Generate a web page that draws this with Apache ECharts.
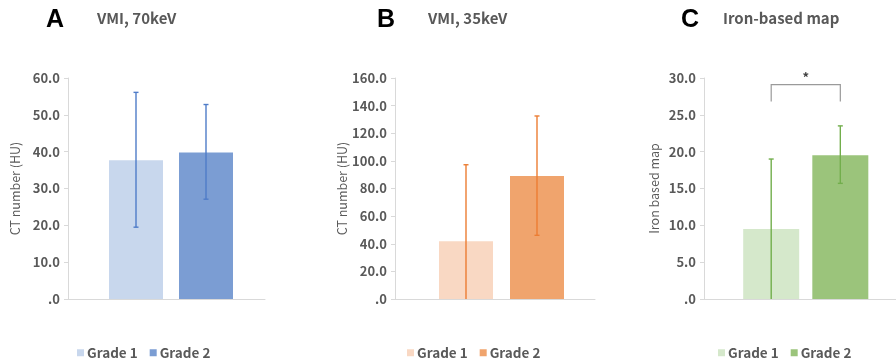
<!DOCTYPE html>
<html><head><meta charset="utf-8">
<script src="https://cdn.jsdelivr.net/npm/echarts@6/dist/echarts.min.js"></script>
<style>html,body{margin:0;padding:0;background:#fff}#c{width:896px;height:364px}</style>
</head><body><div id="c"></div>
<script>
// ---- data ----
const panelLetters = ['A', 'B', 'C'];
const panelTitles = ['VMI, 70keV', 'VMI, 35keV', 'Iron-based map'];
const yTitles = ['CT number (HU)', 'CT number (HU)', 'Iron based map'];
const groups = ['Grade 1', 'Grade 2'];
const meanA = [37.7, 39.8];
const lowA = [19.5, 27.1];
const highA = [56.1, 52.8];
const meanB = [41.8, 89.0];
const lowB = [0, 46.1];
const highB = [97.2, 132.5];
const meanC = [9.5, 19.5];
const lowC = [0, 15.7];
const highC = [19.0, 23.5];
const yMax = [60, 160, 30];
const yStep = [10, 20, 5];
const sigLabel = '*';

// ---- layout / style ----
const FONT = '"Noto Sans CJK JP", "Noto Sans", sans-serif';
const gridsPx = [
  {left: 68, width: 197, c1: 136, c2: 206},
  {left: 395, width: 200, c1: 466, c2: 537},
  {left: 704, width: 200, c1: 774, c2: 846}
];
const barColors = [['#c8d7ed', '#7b9dd3'], ['#f9d8c3', '#f0a46d'], ['#d5e8cb', '#9bc47b']];
const errColors = ['#4f7cc8', '#ec7d33', '#72ae4c'];
const barW = [54, 54, 56];
const titlePos = [{l: 46, t: 97}, {l: 377, t: 428}, {l: 681, t: 723}];
const yNamePos = [15, 343, 653];
const legendPos = [77, 407, 718];
const means = [meanA, meanB, meanC], lows = [lowA, lowB, lowC], highs = [highA, highB, highC];

const chart = echarts.init(document.getElementById('c'), null, {renderer: 'canvas'});
const grid = [], xAxis = [], yAxis = [], series = [], title = [], legend = [];

for (let p = 0; p < 3; p++) {
  const g = gridsPx[p];
  const unit = g.c2 - g.c1;
  const xmin = 1 - (g.c1 - g.left) / unit;
  grid.push({left: g.left, width: g.width, top: 78, height: 221, containLabel: false});
  xAxis.push({type: 'value', gridIndex: p, min: xmin, max: xmin + g.width / unit,
    axisLine: {show: true, onZero: false, lineStyle: {color: '#d9d9d9', width: 1}},
    axisTick: {show: false}, axisLabel: {show: false}, splitLine: {show: false}});
  yAxis.push({type: 'value', gridIndex: p, min: 0, max: yMax[p], interval: yStep[p],
    name: yTitles[p], nameLocation: 'middle', nameRotate: 90,
    nameGap: g.left - yNamePos[p] - 7,
    nameTextStyle: {color: '#595959', fontSize: 12.5, fontFamily: FONT},
    axisLine: {show: true, lineStyle: {color: '#d9d9d9', width: 1}},
    axisTick: {show: true, length: 4, lineStyle: {color: '#d9d9d9'}},
    splitLine: {show: false},
    axisLabel: {color: '#595959', fontSize: 13, fontWeight: 'bold', fontFamily: FONT, margin: 8,
      formatter: v => v === 0 ? '.0' : v.toFixed(1)}});
  title.push({text: panelLetters[p], left: titlePos[p].l, top: 8, padding: 0,
    textStyle: {fontSize: 25, fontWeight: 'bold', color: '#000', fontFamily: '"Liberation Sans", Arial, sans-serif'}});
  title.push({text: panelTitles[p], left: titlePos[p].t, top: 11, padding: 0,
    textStyle: {fontSize: 15, fontWeight: 'bold', color: '#595959', fontFamily: FONT}});
  const names = [];
  for (let i = 0; i < 2; i++) {
    const nm = panelLetters[p] + ':' + groups[i];
    names.push(nm);
    series.push({type: 'bar', name: nm, xAxisIndex: p, yAxisIndex: p, barWidth: barW[p], barGap: '-100%',
      itemStyle: {color: barColors[p][i]}, data: [[i + 1, means[p][i]]], z: 2});
  }
  legend.push({data: names, left: legendPos[p], top: 346, padding: 0, itemWidth: 7, itemHeight: 7, itemGap: 12,
    icon: 'rect', selectedMode: false,
    formatter: n => n.split(':')[1],
    textStyle: {color: '#595959', fontSize: 13.5, fontWeight: 'bold', fontFamily: FONT, padding: [0, 0, 0, -2]}});
  const errData = [];
  for (let i = 0; i < 2; i++) errData.push([i + 1, lows[p][i], highs[p][i]]);
  const col = errColors[p];
  series.push({type: 'custom', xAxisIndex: p, yAxisIndex: p, z: 5, data: errData,
    renderItem: (params, api) => {
      const x = api.value(0);
      const lo = api.coord([x, api.value(1)]);
      const hi = api.coord([x, api.value(2)]);
      const st = {stroke: col, lineWidth: 1.4};
      const kids = [
        {type: 'line', shape: {x1: hi[0], y1: hi[1], x2: lo[0], y2: lo[1]}, style: st},
        {type: 'line', shape: {x1: hi[0] - 2.5, y1: hi[1], x2: hi[0] + 2.5, y2: hi[1]}, style: st}
      ];
      if (api.value(1) > 0) kids.push({type: 'line', shape: {x1: lo[0] - 2.5, y1: lo[1], x2: lo[0] + 2.5, y2: lo[1]}, style: st});
      return {type: 'group', children: kids};
    }});
}

// significance bracket on panel C
series.push({type: 'custom', xAxisIndex: 2, yAxisIndex: 2, z: 6, clip: false,
  data: [[1, 2, 29.1, 26.8]],
  renderItem: (params, api) => {
    const a = api.coord([api.value(0), api.value(2)]);
    const b = api.coord([api.value(1), api.value(2)]);
    const a2 = api.coord([api.value(0), api.value(3)]);
    const b2 = api.coord([api.value(1), api.value(3)]);
    return {type: 'group', children: [
      {type: 'polyline', shape: {points: [[a2[0], a2[1]], [a[0], a[1]], [b[0], b[1]], [b2[0], b2[1]]]},
        style: {stroke: '#9a9a9a', lineWidth: 1.2, fill: null}},
      {type: 'text', style: {text: sigLabel, x: (a[0] + b[0]) / 2, y: a[1] - 8, textAlign: 'center',
        textVerticalAlign: 'middle', fill: '#404040', fontSize: 13, fontWeight: 'bold', fontFamily: FONT}}
    ]};
  }});

chart.setOption({animation: false, title, grid, xAxis, yAxis, legend, series});
</script>
</body></html>
